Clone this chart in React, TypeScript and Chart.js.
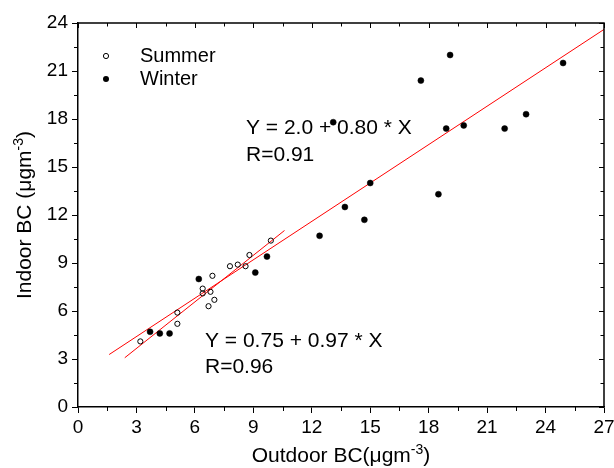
import { useEffect, useRef } from "react";
import { Chart, registerables } from "chart.js";

Chart.register(...registerables);

const FONT = "'Liberation Sans', Arial, Helvetica, sans-serif";

// Summer samples (open circles): outdoor vs indoor black carbon, µg/m³
const summerOutdoor = [3.2, 5.1, 5.1, 6.4, 6.4, 6.8, 7.0, 6.7, 6.9, 7.8, 8.2, 8.6, 8.8, 9.9];
const summerIndoor = [4.1, 5.9, 5.2, 7.4, 7.1, 7.2, 6.7, 6.3, 8.2, 8.8, 8.9, 8.8, 9.5, 10.4];

// Winter samples (filled circles)
const winterOutdoor = [3.7, 4.2, 4.7, 6.2, 9.1, 9.7, 12.4, 13.7, 14.7, 15.0, 13.1, 17.6, 19.1, 18.9, 19.8, 21.9, 23.0, 24.9, 18.5];
const winterIndoor = [4.7, 4.6, 4.6, 8.0, 8.4, 9.4, 10.7, 12.5, 11.7, 14.0, 17.8, 20.4, 22.0, 17.4, 17.6, 17.4, 18.3, 21.5, 13.3];

// Linear fits: [intercept, slope], R, and x-range over which each line is drawn
const summerFitCoef = [0.75, 0.97];
const summerFitR = 0.96;
const summerFitRange = [2.4, 10.6];
const winterFitCoef = [2.0, 0.8];
const winterFitR = 0.91;
const winterFitRange = [1.6, 27];

// Axis ranges / tick steps
const xRange = [0, 27];
const yRange = [0, 24];
const majorStep = 3;
const minorStep = 1.5;

const toPoints = (xs: number[], ys: number[]) => xs.map((x, i) => ({ x, y: ys[i] }));
const fitLine = (coef: number[], range: number[]) =>
  range.map((x) => ({ x, y: coef[0] + coef[1] * x }));

const fitLabel = (coef: number[], d0: number, d1: number) =>
  `Y = ${coef[0].toFixed(d0)} + ${coef[1].toFixed(d1)} * X`;

const TICK_FONT = 19;
const LEGEND_FONT = 20;
const NOTE_FONT = 21;
const TITLE_FONT = 21;

// Draws the top/right frame, minor ticks, legend, fit annotations and axis titles
const decorPlugin = {
  id: "decor",
  afterDraw(chart: any) {
    const { ctx, chartArea: a, scales } = chart;
    const xs = scales.x;
    const ys = scales.y;
    ctx.save();
    ctx.strokeStyle = "#000";
    ctx.fillStyle = "#000";

    // frame top + right
    ctx.lineWidth = 1.5;
    ctx.beginPath();
    ctx.moveTo(a.left, a.top);
    ctx.lineTo(a.right, a.top);
    ctx.lineTo(a.right, a.bottom);
    ctx.stroke();

    ctx.lineWidth = 1;
    const eps = 1e-6;
    ctx.beginPath();
    for (let v = xRange[0]; v <= xRange[1] + eps; v += minorStep) {
      const px = Math.round(xs.getPixelForValue(v)) + 0.5;
      const major = Math.abs(v / majorStep - Math.round(v / majorStep)) < eps;
      if (!major) {
        ctx.moveTo(px, a.bottom);
        ctx.lineTo(px, a.bottom + 4);
      }
      ctx.moveTo(px, a.top);
      ctx.lineTo(px, a.top + (major ? 5 : 3.5));
    }
    for (let v = yRange[0]; v <= yRange[1] + eps; v += minorStep) {
      const py = Math.round(ys.getPixelForValue(v)) + 0.5;
      const major = Math.abs(v / majorStep - Math.round(v / majorStep)) < eps;
      if (!major) {
        ctx.moveTo(a.left, py);
        ctx.lineTo(a.left - 4, py);
      }
      ctx.moveTo(a.right, py);
      ctx.lineTo(a.right - (major ? 5 : 3.5), py);
    }
    ctx.stroke();

    // legend
    const legend = [
      { label: "Summer", filled: false, y: 56 },
      { label: "Winter", filled: true, y: 79 },
    ];
    ctx.font = `${LEGEND_FONT}px ${FONT}`;
    ctx.textBaseline = "middle";
    ctx.textAlign = "left";
    for (const item of legend) {
      ctx.beginPath();
      ctx.arc(106, item.y, item.filled ? 3 : 2.6, 0, Math.PI * 2);
      if (item.filled) ctx.fill();
      else ctx.stroke();
      ctx.fillText(item.label, 140, item.y);
    }

    // fit annotations
    ctx.font = `${NOTE_FONT}px ${FONT}`;
    ctx.fillText(fitLabel(winterFitCoef, 1, 2), 246, 128);
    ctx.fillText(`R=${winterFitR.toFixed(2)}`, 246, 155);
    ctx.fillText(fitLabel(summerFitCoef, 2, 2), 205, 341);
    ctx.fillText(`R=${summerFitR.toFixed(2)}`, 205, 367);

    // axis titles with superscript exponent
    const drawTitle = (cx: number, cy: number, rot: number, main: string, size: number) => {
      ctx.save();
      ctx.translate(cx, cy);
      ctx.rotate(rot);
      ctx.textBaseline = "alphabetic";
      ctx.textAlign = "left";
      const big = `${size}px ${FONT}`;
      const small = `${Math.round(size * 0.65)}px ${FONT}`;
      ctx.font = big;
      const w1 = ctx.measureText(main).width;
      const w3 = ctx.measureText(")").width;
      ctx.font = small;
      const w2 = ctx.measureText("-3").width;
      let x0 = -(w1 + w2 + w3) / 2;
      const base = size * 0.35;
      ctx.font = big;
      ctx.fillText(main, x0, base);
      x0 += w1;
      ctx.font = small;
      ctx.fillText("-3", x0, base - size * 0.42);
      x0 += w2;
      ctx.font = big;
      ctx.fillText(")", x0, base);
      ctx.restore();
    };
    drawTitle((a.left + a.right) / 2, 455, 0, "Outdoor BC(\u03bcgm", TITLE_FONT);
    drawTitle(24, (a.top + a.bottom) / 2, -Math.PI / 2, "Indoor BC (\u03bcgm", TITLE_FONT);

    ctx.restore();
  },
};

export default function App() {
  const ref = useRef<HTMLCanvasElement>(null);

  useEffect(() => {
    if (!ref.current) return;
    Chart.defaults.font.family = FONT;
    const chart = new Chart(ref.current, {
      type: "scatter",
      data: {
        datasets: [
          {
            type: "line",
            label: "Summer fit",
            data: fitLine(summerFitCoef, summerFitRange),
            borderColor: "#ff0000",
            borderWidth: 1,
            pointRadius: 0,
            fill: false,
            order: 3,
          },
          {
            type: "line",
            label: "Winter fit",
            data: fitLine(winterFitCoef, winterFitRange),
            borderColor: "#ff0000",
            borderWidth: 1,
            pointRadius: 0,
            fill: false,
            order: 3,
          },
          {
            label: "Summer",
            data: toPoints(summerOutdoor, summerIndoor),
            pointRadius: 2.6,
            pointBorderWidth: 1,
            backgroundColor: "rgba(255,255,255,0)",
            borderColor: "#000",
            order: 1,
          },
          {
            label: "Winter",
            data: toPoints(winterOutdoor, winterIndoor),
            pointRadius: 3,
            pointBorderWidth: 0.5,
            backgroundColor: "#000",
            borderColor: "#000",
            order: 1,
          },
        ],
      } as any,
      options: {
        animation: false,
        responsive: false,
        maintainAspectRatio: false,
        layout: { padding: { top: 23, right: 10, left: 0, bottom: 0 } },
        plugins: { legend: { display: false }, tooltip: { enabled: false } },
        scales: {
          x: {
            type: "linear",
            min: xRange[0],
            max: xRange[1],
            ticks: { stepSize: majorStep, color: "#000", font: { size: TICK_FONT }, padding: 3, maxRotation: 0 },
            grid: { drawOnChartArea: false, drawTicks: true, tickLength: 6, color: "#000", tickColor: "#000", lineWidth: 1 },
            border: { display: true, color: "#000", width: 1.5 },
            afterFit(s: any) {
              s.height = 61;
              s.paddingLeft = 0;
              s.paddingRight = 0;
            },
          },
          y: {
            type: "linear",
            min: yRange[0],
            max: yRange[1],
            ticks: { stepSize: majorStep, color: "#000", font: { size: TICK_FONT }, padding: 4 },
            grid: { drawOnChartArea: false, drawTicks: true, tickLength: 6, color: "#000", tickColor: "#000", lineWidth: 1 },
            border: { display: true, color: "#000", width: 1.5 },
            afterFit(s: any) {
              s.width = 78;
              s.paddingTop = 0;
              s.paddingBottom = 0;
            },
          },
        },
      },
      plugins: [decorPlugin],
    });
    return () => chart.destroy();
  }, []);

  return (
    <div style={{ position: "fixed", left: 0, top: 0, width: 614, height: 468, background: "#fff" }}>
      <canvas ref={ref} width={614} height={468} />
    </div>
  );
}
